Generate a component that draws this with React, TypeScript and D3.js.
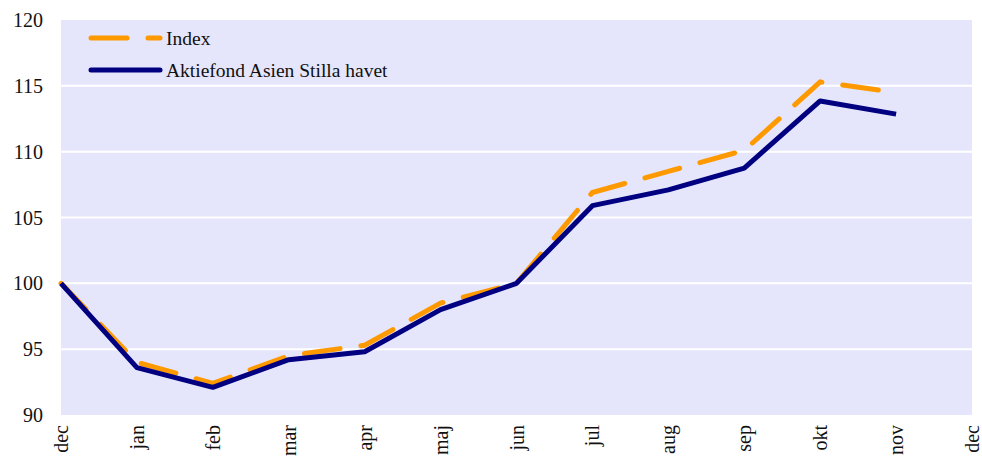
import React, { useRef, useEffect } from 'react';
import * as d3 from 'd3';

const months = ['dec', 'jan', 'feb', 'mar', 'apr', 'maj', 'jun', 'jul', 'aug', 'sep', 'okt', 'nov', 'dec'];
const indexValues = [100, 94.0, 92.4, 94.5, 95.3, 98.5, 100, 106.9, 108.5, 110.1, 115.3, 114.5];
const fundValues = [100, 93.6, 92.1, 94.2, 94.8, 98.0, 100, 105.9, 107.1, 108.75, 113.85, 112.85];
const yTicks = [90, 95, 100, 105, 110, 115, 120];

const FONT = '"Liberation Serif", "DejaVu Serif", serif';

const App = () => {
  const ref = useRef<SVGSVGElement>(null);

  useEffect(() => {
    const W = 982;
    const H = 467;
    const margin = { top: 20, right: 10, bottom: 52, left: 61 };
    const width = 972 - margin.left;
    const height = 415 - margin.top;

    const root = d3.select(ref.current).attr('width', W).attr('height', H);
    root.selectAll('*').remove();

    const svg = root.append('g').attr('transform', `translate(${margin.left},${margin.top})`);

    const xScale = d3.scaleLinear().domain([0, months.length - 1]).range([0, width]);
    const yScale = d3.scaleLinear().domain([90, 120]).range([height, 0]);

    svg.append('rect')
      .attr('width', width)
      .attr('height', height)
      .attr('fill', '#E5E6FB');

    // gridlines
    svg.selectAll('line.grid')
      .data(yTicks.slice(1, -1))
      .enter().append('line')
      .attr('class', 'grid')
      .attr('x1', 0)
      .attr('x2', width)
      .attr('y1', d => yScale(d))
      .attr('y2', d => yScale(d))
      .attr('stroke', '#ffffff')
      .attr('stroke-width', 2);

    // y labels
    svg.selectAll('text.ylab')
      .data(yTicks)
      .enter().append('text')
      .attr('class', 'ylab')
      .attr('x', -18)
      .attr('y', d => yScale(d))
      .attr('dy', '0.35em')
      .attr('text-anchor', 'end')
      .attr('font-family', FONT)
      .attr('font-size', 20)
      .attr('fill', '#111')
      .text(d => d);

    // x labels
    svg.selectAll('text.xlab')
      .data(months)
      .enter().append('text')
      .attr('class', 'xlab')
      .attr('transform', (d, i) => `translate(${xScale(i)},${height + 10}) rotate(-90)`)
      .attr('dy', '0.35em')
      .attr('text-anchor', 'end')
      .attr('font-family', FONT)
      .attr('font-size', 20)
      .attr('fill', '#111')
      .text(d => d);

    const line = d3.line<number>()
      .x((d, i) => xScale(i))
      .y(d => yScale(d));

    svg.append('path')
      .datum(indexValues)
      .attr('d', line)
      .attr('fill', 'none')
      .attr('stroke', '#FF9900')
      .attr('stroke-width', 5)
      .attr('stroke-linecap', 'round')
      .attr('stroke-dasharray', '36,21');

    svg.append('path')
      .datum(fundValues)
      .attr('d', line)
      .attr('fill', 'none')
      .attr('stroke', '#000080')
      .attr('stroke-width', 5)
      .attr('stroke-linejoin', 'round');

    // legend
    const legend = [
      { label: 'Index', color: '#FF9900', dash: '36,21', y: 38 },
      { label: 'Aktiefond Asien Stilla havet', color: '#000080', dash: null, y: 70 }
    ];
    legend.forEach(l => {
      root.append('line')
        .attr('x1', 91)
        .attr('x2', 160)
        .attr('y1', l.y)
        .attr('y2', l.y)
        .attr('stroke', l.color)
        .attr('stroke-width', 5)
        .attr('stroke-linecap', 'round')
        .attr('stroke-dasharray', l.dash);
      root.append('text')
        .attr('x', 166)
        .attr('y', l.y)
        .attr('dy', '0.35em')
        .attr('font-family', FONT)
        .attr('font-size', 19.5)
        .attr('fill', '#111')
        .text(l.label);
    });
  }, []);

  return <svg ref={ref} style={{ position: 'absolute', left: 0, top: 0 }}></svg>;
};

export default App;
